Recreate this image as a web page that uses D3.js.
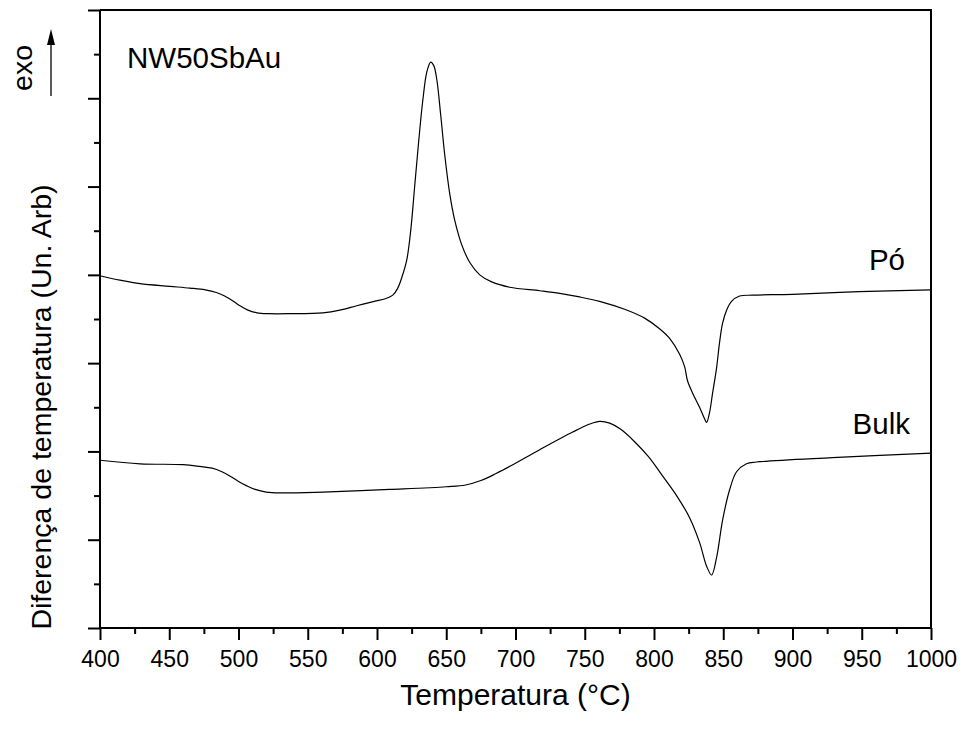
<!DOCTYPE html>
<html>
<head>
<meta charset="utf-8">
<script src="https://cdn.jsdelivr.net/npm/d3@7/dist/d3.min.js"></script>
<style>
  html, body { margin: 0; padding: 0; background: #fff; }
  svg { display: block; font-family: "Liberation Sans", Arial, Helvetica, sans-serif; }
</style>
</head>
<body>
<svg id="chart" width="964" height="729"></svg>
<script>
// DTA traces: [temperature °C, signal (arb. units)]
const poTrace = [
  [400,3.99],[414.4,3.94],[428.9,3.90],[450.5,3.87],[465,3.85],[476,3.83],[484,3.80],
  [490,3.76],[495.5,3.71],[501,3.65],[506.8,3.60],[513.3,3.57],[522,3.56],[537.1,3.56],
  [560.9,3.57],[573.2,3.60],[585.4,3.65],[598,3.70],[606,3.73],[611.4,3.77],[615,3.85],
  [617.9,3.97],[621.5,4.17],[624.4,4.51],[627.3,5.02],[630.2,5.53],[633.1,5.98],[636,6.30],
  [638.8,6.41],[641,6.37],[643.2,6.21],[646,5.81],[648.9,5.36],[652.5,4.92],[656.1,4.62],
  [661.2,4.34],[667,4.14],[674.2,4.00],[682.8,3.92],[695.8,3.86],[717.5,3.82],[731.9,3.79],
  [746.3,3.75],[760.7,3.70],[778.8,3.61],[793.2,3.51],[804,3.39],[811.3,3.28],[818.5,3.10],
  [822.1,2.96],[824.2,2.80],[827.9,2.66],[832.9,2.50],[836.5,2.37],[838,2.33],[840.1,2.44],
  [842.3,2.66],[845.2,2.95],[847.3,3.23],[849.5,3.45],[852.4,3.60],[856,3.70],[861.8,3.76],
  [871.1,3.77],[900,3.78],[948.3,3.81],[1000,3.83]
];
const bulkTrace = [
  [400,1.90],[428.9,1.86],[460,1.85],[472,1.83],[481,1.81],[488,1.77],[494,1.72],
  [500,1.66],[506,1.61],[512,1.57],[520,1.54],[530,1.53],[560.9,1.54],[609.2,1.57],
  [650,1.60],[664,1.62],[675,1.67],[686,1.75],[697,1.84],[717.5,2.02],[741.3,2.22],
  [753.6,2.31],[760.8,2.34],[768,2.32],[776,2.25],[786,2.11],[796,1.94],[806.3,1.72],
  [817.1,1.48],[825.7,1.25],[832.9,0.97],[838,0.70],[841.6,0.60],[845.2,0.80],[849.5,1.22],
  [854.5,1.56],[859.6,1.77],[866.8,1.86],[874,1.88],[928.8,1.93],[1000,1.98]
];
const xTicks = [400,450,500,550,600,650,700,750,800,850,900,950,1000];
const xMinorTicks = [425,475,525,575,625,675,725,775,825,875,925,975];
const yTicks = [0,1,2,3,4,5,6,7];
const yMinorTicks = [0.5,1.5,2.5,3.5,4.5,5.5,6.5];
const curveLabels = [
  {text: "Pó", t: 1000, v: 4.05, dx: -26},
  {text: "Bulk", t: 1000, v: 2.2, dx: -21}
];

const svg = d3.select("#chart");
const plotL = 100, plotR = 931, plotT = 10, plotB = 628;

const x = d3.scaleLinear().domain([400, 1000]).range([plotL, plotR]);
const y = d3.scaleLinear().domain([0, 7]).range([plotB, plotT]);

// frame (top and right edges)
svg.append("path")
  .attr("d", `M${plotL},${plotT}H${plotR}V${plotB}`)
  .attr("fill", "none").attr("stroke", "#000").attr("stroke-width", 2);

// bottom axis with labels
const gx = svg.append("g").attr("transform", `translate(0,${plotB})`)
  .call(d3.axisBottom(x).tickValues(xTicks).tickSize(12).tickPadding(11).tickFormat(d3.format("d")));
gx.select(".domain").attr("stroke-width", 2).attr("d", `M${plotL},0H${plotR}`);
gx.selectAll(".tick line").attr("stroke-width", 2);
gx.selectAll("text").attr("font-size", 23).attr("font-family", "Liberation Sans, Arial, sans-serif").attr("fill", "#000");

const gxm = svg.append("g").attr("transform", `translate(0,${plotB})`)
  .call(d3.axisBottom(x).tickValues(xMinorTicks).tickSize(6).tickFormat(""));
gxm.select(".domain").remove();
gxm.selectAll(".tick line").attr("stroke-width", 2);

// left axis, no labels
const gy = svg.append("g").attr("transform", `translate(${plotL},0)`)
  .call(d3.axisLeft(y).tickValues(yTicks).tickSize(12).tickFormat(""));
gy.select(".domain").attr("stroke-width", 2).attr("d", `M0,${plotB}V${plotT}`);
gy.selectAll(".tick line").attr("stroke-width", 2);

const gym = svg.append("g").attr("transform", `translate(${plotL},0)`)
  .call(d3.axisLeft(y).tickValues(yMinorTicks).tickSize(6).tickFormat(""));
gym.select(".domain").remove();
gym.selectAll(".tick line").attr("stroke-width", 2);

// traces
const line = d3.line().x(d => x(d[0])).y(d => y(d[1])).curve(d3.curveCatmullRom.alpha(0.5));
[poTrace, bulkTrace].forEach(tr => {
  svg.append("path").datum(tr)
    .attr("d", line)
    .attr("fill", "none").attr("stroke", "#000").attr("stroke-width", 1.2);
});

// curve labels
curveLabels.forEach(l => {
  svg.append("text")
    .attr("x", x(l.t) + l.dx).attr("y", y(l.v))
    .attr("text-anchor", "end").attr("font-size", 29.5).attr("fill", "#000")
    .text(l.text);
});

// sample name
svg.append("text").attr("x", 127).attr("y", 68)
  .attr("font-size", 29.5).attr("fill", "#000").text("NW50SbAu");

// axis titles
svg.append("text").attr("x", (plotL + plotR) / 2).attr("y", 705)
  .attr("text-anchor", "middle").attr("font-size", 30).attr("fill", "#000")
  .text("Temperatura (°C)");
svg.append("text").attr("transform", "translate(51,407) rotate(-90)")
  .attr("text-anchor", "middle").attr("font-size", 28.5).attr("fill", "#000")
  .text("Diferença de temperatura (Un. Arb)");

// exo direction marker
svg.append("text").attr("transform", "translate(32,68) rotate(-90)")
  .attr("text-anchor", "middle").attr("font-size", 28.5).attr("fill", "#000")
  .text("exo");
svg.append("line").attr("x1", 51).attr("x2", 51).attr("y1", 96).attr("y2", 42)
  .attr("stroke", "#000").attr("stroke-width", 1.3);
svg.append("path").attr("d", "M51,29L47,45L55,45Z").attr("fill", "#000");
</script>
</body>
</html>
